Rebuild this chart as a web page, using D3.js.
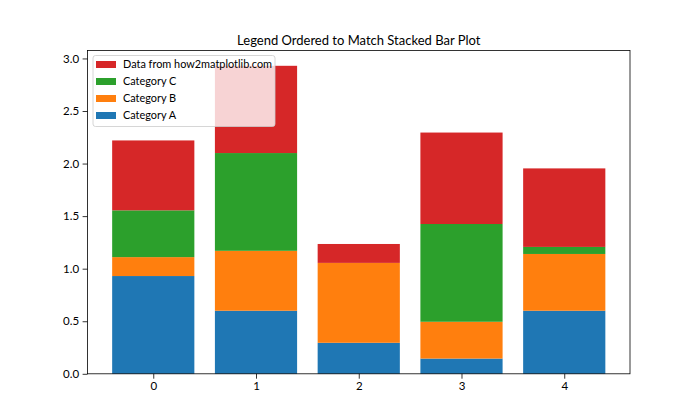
<!DOCTYPE html>
<html><head><meta charset="utf-8">
<script src="https://cdn.jsdelivr.net/npm/d3@7"></script>
<style>body{margin:0;background:#fff}svg{display:block}text{font-family:Lato,"Open Sans",sans-serif;fill:#000}</style>
</head><body><svg id="c" width="700" height="420"></svg>
<script>
const categories = ["0","1","2","3","4"];
const catA = [0.93, 0.60, 0.295, 0.145, 0.60];
const catB = [0.18, 0.57, 0.76, 0.35, 0.54];
const catC = [0.445, 0.93, 0.0, 0.93, 0.067];
const catD = [0.665, 0.83, 0.18, 0.87, 0.747];
const seriesNames = ["Category A","Category B","Category C","Data from how2matplotlib.com"];
const colors = ["#1f77b4","#ff7f0e","#2ca02c","#d62728"];
const yTicks = [0,0.5,1,1.5,2,2.5,3];
const title = "Legend Ordered to Match Stacked Bar Plot";

const svg = d3.select("#c");
const L=87.5, R=630, T=50.4, B=373.8;
const x = d3.scaleLinear().domain([-0.64,4.64]).range([L,R]);
const series = [catA,catB,catC,catD];
const totals = categories.map((c,i)=>series.reduce((s,a)=>s+a[i],0));
const y = d3.scaleLinear().domain([0, d3.max(totals)*1.05]).range([B,T]);

const rows = categories.map((c,i)=>({i, A:catA[i],B:catB[i],C:catC[i],D:catD[i]}));
const stack = d3.stack().keys(["A","B","C","D"])(rows);
stack.forEach((layer,k)=>{
  svg.append("g").selectAll("rect").data(layer).join("rect")
    .attr("x",d=>x(d.data.i-0.4)).attr("width",d=>x(0.8)-x(0))
    .attr("y",d=>y(d[1])).attr("height",d=>y(d[0])-y(d[1]))
    .attr("fill",colors[k]);
});

const xa = svg.append("g").attr("transform",`translate(0,${B})`)
  .call(d3.axisBottom(x).tickValues([0,1,2,3,4]).tickFormat(d=>categories[d]).tickSize(4.9).tickPadding(3.5));
const ya = svg.append("g").attr("transform",`translate(${L},0)`)
  .call(d3.axisLeft(y).tickValues(yTicks).tickFormat(d3.format(".1f")).tickSize(4.9).tickPadding(3.5));
[xa,ya].forEach(a=>{a.select(".domain").remove();a.selectAll("line").attr("stroke","#000").attr("stroke-width",0.8);
  a.selectAll("text").attr("font-size",11.5).attr("fill","#000").attr("font-family",'Lato,"Open Sans",sans-serif');});

svg.append("rect").attr("x",L).attr("y",T).attr("width",R-L).attr("height",B-T)
  .attr("fill","none").attr("stroke","#000").attr("stroke-width",0.8);

svg.append("text").attr("x",(L+R)/2).attr("y",T-5.5).attr("text-anchor","middle")
  .attr("font-size",13).text(title);

const lg = svg.append("g");
lg.append("rect").attr("x",93).attr("y",55.5).attr("width",182).attr("height",71).attr("rx",2.5)
  .attr("fill","#fff").attr("fill-opacity",0.8).attr("stroke","#ccc").attr("stroke-width",0.8);
const order = [3,2,1,0];
order.forEach((k,j)=>{
  const cy = 64.5 + j*17;
  lg.append("rect").attr("x",96).attr("y",cy-3.5).attr("width",20).attr("height",7).attr("fill",colors[k]);
  lg.append("text").attr("x",123).attr("y",cy).attr("dy","0.35em").attr("font-size",10.9).text(seriesNames[k]);
});
</script></body></html>
